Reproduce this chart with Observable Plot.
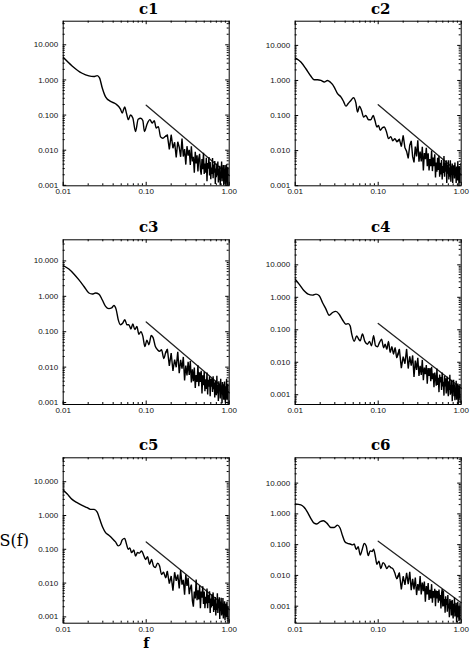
<!DOCTYPE html>
<html>
<head>
<meta charset="utf-8">
<script src="https://cdn.jsdelivr.net/npm/d3@7"></script>
<script src="https://cdn.jsdelivr.net/npm/@observablehq/plot@0.6"></script>
<style>
  html, body { margin: 0; padding: 0; background: #fff; }
  #chart { position: relative; width: 473px; height: 653px; overflow: hidden; background: #fff; }
  #chart svg { position: absolute; overflow: visible; }
</style>
</head>
<body>
<div id="chart"></div>
<script>
// ---- Spectra S(f) for the six channels ----------------------------------

const panelNames = ["c1", "c2", "c3", "c4", "c5", "c6"];

// Shared high-frequency grid (noisy tail of every spectrum)
const fHigh = [
  0.18, 0.19, 0.20, 0.21, 0.22, 0.23, 0.24, 0.25, 0.26, 0.27, 0.28, 0.29,
  0.30, 0.31, 0.32, 0.33, 0.34, 0.35, 0.36, 0.37, 0.38, 0.39, 0.40, 0.41,
  0.42, 0.43, 0.44, 0.45, 0.46, 0.47, 0.48, 0.49, 0.50, 0.51, 0.52, 0.53,
  0.54, 0.55, 0.56, 0.57, 0.58, 0.59, 0.60, 0.61, 0.62, 0.63, 0.64, 0.65,
  0.66, 0.67, 0.68, 0.69, 0.70, 0.71, 0.72, 0.73, 0.74, 0.75, 0.76, 0.77,
  0.78, 0.79, 0.80, 0.81, 0.82, 0.83, 0.84, 0.85, 0.86, 0.87, 0.88, 0.89,
  0.90, 0.91, 0.92, 0.93, 0.94, 0.95, 0.96, 0.97, 0.98, 0.99, 1.00
];

// c1
const c1F = [0.010, 0.0128, 0.0169, 0.0204, 0.0234, 0.0257, 0.0274, 0.0295, 0.0324, 0.0372,
  0.0427, 0.049, 0.0514, 0.055, 0.058, 0.061, 0.0646, 0.069, 0.0744, 0.080,
  0.086, 0.091, 0.0953, 0.1025, 0.111, 0.118, 0.125, 0.132, 0.14, 0.149, 0.159, 0.171];
const c1S = [4.4, 2.5, 1.55, 1.30, 1.25, 1.33, 1.15, 0.60, 0.33, 0.245,
  0.21, 0.148, 0.114, 0.17, 0.11, 0.074, 0.10, 0.082, 0.034, 0.076,
  0.081, 0.07, 0.034, 0.056, 0.074, 0.059, 0.069, 0.043, 0.047, 0.024, 0.022, 0.025];
const c1Hi = [
  0.027, 0.0105, 0.0276, 0.0114, 0.0169, 0.0062, 0.0174, 0.0121, 0.0065, 0.0216, 0.0066, 0.0107,
  0.0039, 0.013, 0.007, 0.0102, 0.0038, 0.013, 0.0048, 0.0065, 0.0023, 0.009, 0.0042, 0.0072,
  0.0025, 0.0059, 0.0079, 0.0028, 0.002, 0.0056, 0.0029, 0.0085, 0.0021, 0.0042, 0.0023, 0.0061,
  0.0013, 0.0043, 0.003, 0.0064, 0.0019, 0.0046, 0.0015, 0.0032, 0.0021, 0.006, 0.0016, 0.0039,
  0.0023, 0.0049, 0.0011, 0.003, 0.0017, 0.0042, 0.0019, 0.0048, 0.0012, 0.003, 0.0014, 0.0036,
  0.001, 0.0024, 0.0016, 0.0048, 0.0013, 0.0032, 0.0018, 0.0038, 0.00087, 0.0029, 0.0016, 0.0038,
  0.0011, 0.0024, 0.0013, 0.004, 0.00098, 0.0025, 0.0016, 0.0033, 0.00092, 0.0029, 0.0017
];

// c2
const c2F = [0.010, 0.0117, 0.01345, 0.0154, 0.0169, 0.0186, 0.0204, 0.0224, 0.0245, 0.0264,
  0.0295, 0.0324, 0.0355, 0.0383, 0.0408, 0.0435, 0.0469, 0.0504, 0.0538, 0.0564,
  0.0596, 0.063, 0.0666, 0.071, 0.0765, 0.0816, 0.0871, 0.0912, 0.0964, 0.1009,
  0.1057, 0.1128, 0.118, 0.126, 0.133, 0.142, 0.150, 0.159, 0.168];
const c2S = [4.4, 3.35, 2.16, 1.34, 1.05, 1.05, 1.0, 0.90, 1.0, 0.9,
  0.65, 0.42, 0.34, 0.25, 0.185, 0.22, 0.27, 0.32, 0.23, 0.126,
  0.185, 0.14, 0.091, 0.1, 0.076, 0.076, 0.1, 0.073, 0.047, 0.052,
  0.038, 0.045, 0.047, 0.034, 0.022, 0.025, 0.019, 0.022, 0.018];
const c2Hi = [
  0.021, 0.013, 0.027, 0.012, 0.0095, 0.006, 0.0143, 0.0189, 0.0067, 0.0046, 0.013, 0.0068,
  0.0196, 0.0048, 0.0094, 0.0049, 0.0128, 0.0027, 0.0085, 0.0057, 0.012, 0.0036, 0.0084, 0.0027,
  0.0057, 0.0036, 0.0101, 0.0026, 0.0063, 0.0036, 0.0078, 0.0017, 0.0046, 0.0025, 0.0062, 0.0028,
  0.0071, 0.0018, 0.0045, 0.0021, 0.0054, 0.0015, 0.0036, 0.0023, 0.007, 0.0018, 0.0046, 0.0025,
  0.0053, 0.0012, 0.004, 0.0022, 0.0053, 0.0015, 0.0033, 0.0018, 0.0053, 0.0013, 0.0034, 0.0021,
  0.0043, 0.0012, 0.0037, 0.0022, 0.0039, 0.0016, 0.0046, 0.002, 0.0031, 0.0012, 0.0035, 0.0025,
  0.0014, 0.005, 0.0016, 0.0027, 0.001, 0.0036, 0.002, 0.0031, 0.0012, 0.0044, 0.0017
];

// c3
const c3F = [0.010, 0.0117, 0.01345, 0.0154, 0.0178, 0.0204, 0.0224, 0.0245, 0.0269, 0.0295,
  0.0324, 0.0355, 0.0383, 0.0408, 0.0435, 0.046, 0.049, 0.0523, 0.0553, 0.0585,
  0.0618, 0.0654, 0.069, 0.073, 0.0772, 0.0816, 0.0862, 0.0912, 0.0964, 0.1019,
  0.1077, 0.115, 0.1214, 0.129, 0.137, 0.145, 0.153, 0.163, 0.171];
const c3S = [7.4, 5.9, 4.3, 2.96, 1.9, 1.24, 1.16, 1.24, 1.16, 0.8,
  0.52, 0.45, 0.47, 0.55, 0.42, 0.22, 0.158, 0.177, 0.22, 0.158,
  0.158, 0.12, 0.165, 0.115, 0.14, 0.085, 0.1, 0.074, 0.038, 0.058,
  0.043, 0.078, 0.067, 0.038, 0.031, 0.028, 0.031, 0.0174, 0.025];
const c3Hi = [
  0.032, 0.0108, 0.0248, 0.0078, 0.0162, 0.0099, 0.027, 0.0067, 0.016, 0.009, 0.0194, 0.0042,
  0.011, 0.0058, 0.0141, 0.006, 0.0148, 0.0037, 0.0087, 0.004, 0.0098, 0.0026, 0.006, 0.0038,
  0.0112, 0.0029, 0.0071, 0.0038, 0.0079, 0.0018, 0.0059, 0.0031, 0.0074, 0.0021, 0.0045, 0.0024,
  0.007, 0.0017, 0.0044, 0.0028, 0.0055, 0.0015, 0.0047, 0.0028, 0.0048, 0.002, 0.0055, 0.0024,
  0.0037, 0.0014, 0.0041, 0.003, 0.0016, 0.0057, 0.0018, 0.0031, 0.0011, 0.004, 0.0022, 0.0034,
  0.0013, 0.0047, 0.0018, 0.0025, 0.00095, 0.0038, 0.0019, 0.0033, 0.0012, 0.0028, 0.0039, 0.0014,
  0.001, 0.0029, 0.0016, 0.0047, 0.0012, 0.0024, 0.0013, 0.0034, 0.00075, 0.0024, 0.0016
];

// c4
const c4F = [0.010, 0.0112, 0.0128, 0.0143, 0.0162, 0.0178, 0.0195, 0.0213, 0.0234, 0.0257,
  0.0282, 0.0309, 0.0339, 0.0372, 0.0408, 0.0435, 0.046, 0.048, 0.0514, 0.055,
  0.058, 0.0607, 0.0646, 0.069, 0.0744, 0.0786, 0.0831, 0.088, 0.0929, 0.0982,
  0.1038, 0.11, 0.116, 0.1214, 0.127, 0.133, 0.1395, 0.146, 0.153, 0.16, 0.167];
const c4S = [3.6, 2.5, 1.58, 1.25, 1.17, 1.25, 1.11, 0.69, 0.44, 0.28,
  0.34, 0.37, 0.3, 0.2, 0.148, 0.155, 0.13, 0.074, 0.044, 0.065,
  0.052, 0.046, 0.074, 0.044, 0.036, 0.044, 0.032, 0.066, 0.032, 0.03,
  0.041, 0.051, 0.028, 0.036, 0.025, 0.044, 0.02, 0.03, 0.018, 0.028, 0.014];
const c4Hi = [
  0.0248, 0.0066, 0.0149, 0.009, 0.0257, 0.0064, 0.0153, 0.0079, 0.0162, 0.0035, 0.0112, 0.0058,
  0.0137, 0.0038, 0.0078, 0.0041, 0.0118, 0.0028, 0.0069, 0.0043, 0.0082, 0.0022, 0.0066, 0.0038,
  0.0066, 0.0026, 0.0072, 0.003, 0.0046, 0.0017, 0.0048, 0.0034, 0.0019, 0.0064, 0.002, 0.0033,
  0.0012, 0.0042, 0.0024, 0.0035, 0.0014, 0.0048, 0.0018, 0.0025, 0.00094, 0.0038, 0.0018, 0.0032,
  0.0011, 0.0026, 0.0036, 0.0013, 0.0009, 0.0026, 0.0014, 0.0041, 0.001, 0.002, 0.0011, 0.0029,
  0.00063, 0.002, 0.0014, 0.0029, 0.0009, 0.0021, 0.00068, 0.0015, 0.00093, 0.0027, 0.0007, 0.0017,
  0.001, 0.0022, 0.0005, 0.0014, 0.00075, 0.0019, 0.00083, 0.0021, 0.00055, 0.0013, 0.00063
];

// c5
const c5F = [0.010, 0.0112, 0.0128, 0.0147, 0.0169, 0.0195, 0.0213, 0.0234, 0.0257, 0.0276,
  0.030, 0.0324, 0.0355, 0.039, 0.0427, 0.046, 0.049, 0.0514, 0.055, 0.058,
  0.0607, 0.0635, 0.0666, 0.071, 0.0744, 0.0786, 0.0831, 0.088, 0.0929, 0.0982,
  0.1038, 0.11, 0.116, 0.1225, 0.129, 0.137, 0.145, 0.153, 0.162, 0.171];
const c5S = [5.7, 4.3, 3.0, 2.4, 2.0, 1.7, 1.52, 1.52, 1.26, 0.77,
  0.44, 0.31, 0.26, 0.21, 0.165, 0.126, 0.14, 0.19, 0.21, 0.14,
  0.1, 0.11, 0.08, 0.095, 0.063, 0.08, 0.077, 0.09, 0.068, 0.05,
  0.06, 0.036, 0.05, 0.032, 0.029, 0.039, 0.032, 0.018, 0.021, 0.0145];
const c5Hi = [
  0.022, 0.0096, 0.0162, 0.006, 0.021, 0.0117, 0.0178, 0.0069, 0.0242, 0.009, 0.0124, 0.0045,
  0.0179, 0.0083, 0.0143, 0.0047, 0.0072, 0.009, 0.003, 0.002, 0.0056, 0.0035, 0.0127, 0.0031,
  0.0061, 0.0033, 0.0085, 0.0018, 0.0056, 0.0037, 0.008, 0.0024, 0.0056, 0.0018, 0.0039, 0.0025,
  0.0069, 0.0018, 0.0045, 0.0026, 0.0057, 0.0013, 0.0035, 0.0019, 0.0047, 0.0021, 0.0053, 0.0014,
  0.0033, 0.0016, 0.0039, 0.0011, 0.0025, 0.0016, 0.005, 0.0013, 0.0033, 0.0018, 0.0038, 0.00086,
  0.0028, 0.0015, 0.0037, 0.0011, 0.0022, 0.0012, 0.0036, 0.00089, 0.0023, 0.0014, 0.0029, 0.0008,
  0.0024, 0.0014, 0.0025, 0.001, 0.0028, 0.0012, 0.0018, 0.00069, 0.002, 0.0015, 0.0008
];

// c6
const c6F = [0.010, 0.0117, 0.0128, 0.0141, 0.0154, 0.0169, 0.0182, 0.020, 0.0219, 0.0241,
  0.0269, 0.0295, 0.0324, 0.0348, 0.0372, 0.0397, 0.0427, 0.046, 0.049, 0.0514,
  0.0543, 0.0574, 0.0607, 0.0642, 0.0679, 0.0717, 0.0759, 0.080, 0.0847, 0.088,
  0.0929, 0.0964, 0.1019, 0.1077, 0.114, 0.12, 0.127, 0.1345, 0.142, 0.150, 0.159, 0.167];
const c6S = [2.1, 1.96, 1.64, 1.12, 0.72, 0.5, 0.47, 0.56, 0.6, 0.5,
  0.36, 0.36, 0.43, 0.34, 0.195, 0.124, 0.11, 0.105, 0.098, 0.105,
  0.07, 0.085, 0.046, 0.07, 0.11, 0.09, 0.044, 0.063, 0.06, 0.071,
  0.038, 0.023, 0.029, 0.0166, 0.026, 0.023, 0.0166, 0.0205, 0.018, 0.0166, 0.0118, 0.0079];
const c6Hi = [
  0.012, 0.0035, 0.0094, 0.0049, 0.0121, 0.0052, 0.013, 0.0033, 0.0077, 0.0035, 0.0085, 0.0023,
  0.0052, 0.0032, 0.0095, 0.0024, 0.0059, 0.0031, 0.0063, 0.0014, 0.0045, 0.0024, 0.0057, 0.0016,
  0.0034, 0.0018, 0.0052, 0.0013, 0.0031, 0.0019, 0.0037, 0.001, 0.0032, 0.0018, 0.0031, 0.0013,
  0.0035, 0.0015, 0.0023, 0.00085, 0.0025, 0.0036, 0.00097, 0.0032, 0.001, 0.0017, 0.00061, 0.0021,
  0.0011, 0.0017, 0.00066, 0.0023, 0.00085, 0.0012, 0.00044, 0.0017, 0.00083, 0.0015, 0.0005, 0.0012,
  0.0016, 0.00058, 0.0004, 0.0012, 0.00063, 0.0019, 0.00046, 0.00092, 0.0005, 0.0013, 0.00029, 0.00093,
  0.00064, 0.0014, 0.00043, 0.001, 0.00033, 0.00072, 0.00046, 0.0013, 0.00035, 0.00085, 0.0005
];

// f^-2 guide line: its level at f = 0.1 and at f = 1
const guideF = [0.1, 1.0];
const guideAt01 = [0.19, 0.204, 0.188, 0.157, 0.165, 0.13];
const guideAt1 = [0.0019, 0.00204, 0.00188, 0.00157, 0.00165, 0.0013];

// Axis ranges and labelled ticks
const xRange = [0.01, 1.0];
const yLow = [0.00097, 0.00099, 0.00088, 0.0005, 0.00065, 0.00028];
const yHigh = [47, 49, 39.5, 59, 51, 66.5];
const xTickValues = [0.01, 0.1, 1.0];
const yTickValues = [0.001, 0.01, 0.1, 1, 10];

const lowF = [c1F, c2F, c3F, c4F, c5F, c6F];
const lowS = [c1S, c2S, c3S, c4S, c5S, c6S];
const highS = [c1Hi, c2Hi, c3Hi, c4Hi, c5Hi, c6Hi];

// ---- Layout ---------------------------------------------------------------
const FW = 166;                        // frame width (px)
const colX = [0, 236];                 // svg left per column
const colML = [62.7, 58.7];            // margin left per column
const rowY = [0, 212, 424];            // svg top per row
const rowH = [212, 212, 229];          // svg height per row
const rowMT = [20.7, 27.3, 33.3];      // margin top per row
const rowFH = [164.6, 164.7, 165.4];   // frame height per row
const MAJ = 3.5, MIN = 2;              // inward tick lengths

const labelFont = "'Liberation Sans', Arial, Helvetica, sans-serif";
const serifFont = "'DejaVu Serif', 'Liberation Serif', serif";

const chart = document.getElementById("chart");

panelNames.forEach((name, i) => {
  const col = i % 2, row = Math.floor(i / 2);
  const W = 236, H = rowH[row];
  const FH = rowFH[row];
  const ml = colML[col], mt = rowMT[row];
  const mr = W - ml - FW, mb = H - mt - FH;

  // smooth low-frequency part and the jagged tail, joined at the boundary point
  const low = lowF[i].map((f, k) => ({f, S: lowS[i][k]}));
  const high = fHigh.map((f, k) => ({f, S: highS[i][k]}));
  const lowPart = low.concat(high.slice(0, 1));
  const highPart = low.slice(-1).concat(high);
  const guide = guideF.map((f, k) => ({f, S: k === 0 ? guideAt01[i] : guideAt1[i]}));

  const yTicks = d3.scaleLog().domain([yLow[i], yHigh[i]]).ticks();
  const xTicks = d3.scaleLog().domain(xRange).ticks();
  const isMajor = v => Math.abs(Math.log10(v) - Math.round(Math.log10(v))) < 1e-9;
  const yMaj = yTicks.filter(isMajor), yMin = yTicks.filter(v => !isMajor(v));
  const xMaj = xTicks.filter(isMajor), xMin = xTicks.filter(v => !isMajor(v));

  const tickStyle = {stroke: "#000", strokeWidth: 1};
  const lineStyle = {x: "f", y: "S", stroke: "#000", strokeWidth: 1.4, clip: true};
  const marks = [
    // inward ticks on all four sides
    Plot.tickY(yMaj, {y: d => d, insetRight: FW - MAJ, ...tickStyle}),
    Plot.tickY(yMin, {y: d => d, insetRight: FW - MIN, ...tickStyle}),
    Plot.tickY(yMaj, {y: d => d, insetLeft: FW - MAJ, ...tickStyle}),
    Plot.tickY(yMin, {y: d => d, insetLeft: FW - MIN, ...tickStyle}),
    Plot.tickX(xMaj, {x: d => d, insetTop: FH - MAJ, ...tickStyle}),
    Plot.tickX(xMin, {x: d => d, insetTop: FH - MIN, ...tickStyle}),
    Plot.tickX(xMaj, {x: d => d, insetBottom: FH - MAJ, ...tickStyle}),
    Plot.tickX(xMin, {x: d => d, insetBottom: FH - MIN, ...tickStyle}),
    Plot.axisX(xTickValues, {tickSize: 0, tickPadding: 3, tickFormat: d => d.toFixed(2),
      fontSize: 8, fill: "#111"}),
    Plot.axisY(yTickValues.filter(v => v >= yLow[i] && v <= yHigh[i]),
      {tickSize: 0, tickPadding: 5, tickFormat: d => d.toFixed(3), fontSize: 8, fill: "#111"}),
    Plot.line(guide, {x: "f", y: "S", stroke: "#222", strokeWidth: 1.3}),
    Plot.line(lowPart, {...lineStyle, curve: "monotone-x"}),
    Plot.line(highPart, {...lineStyle, curve: "linear", strokeLinejoin: "miter"}),
    Plot.frame({stroke: "#000", strokeWidth: 1}),
    Plot.text([name], {text: d => d, frameAnchor: "top", lineAnchor: "middle", dy: -12.5, dx: 2.5,
      fontFamily: serifFont, fontSize: 15, fontWeight: "bold", fill: "#000"})
  ];
  if (name === "c5") {
    marks.push(
      Plot.text(["S(f)"], {text: d => d, frameAnchor: "left", lineAnchor: "middle",
        dx: -ml - 1, textAnchor: "start", fontFamily: serifFont, fontSize: 16, fill: "#000"}),
      Plot.text(["f"], {text: d => d, frameAnchor: "bottom", lineAnchor: "middle", dy: 20,
        fontFamily: serifFont, fontSize: 14, fontWeight: "bold", fill: "#000"})
    );
  }

  const svg = Plot.plot({
    width: W, height: H,
    marginLeft: ml, marginRight: mr, marginTop: mt, marginBottom: mb,
    x: {type: "log", domain: xRange, label: null},
    y: {type: "log", domain: [yLow[i], yHigh[i]], label: null},
    style: {fontFamily: labelFont, fontSize: "8px", color: "#000", background: "transparent"},
    marks
  });
  svg.style.left = colX[col] + "px";
  svg.style.top = rowY[row] + "px";
  chart.appendChild(svg);
});
</script>
</body>
</html>
